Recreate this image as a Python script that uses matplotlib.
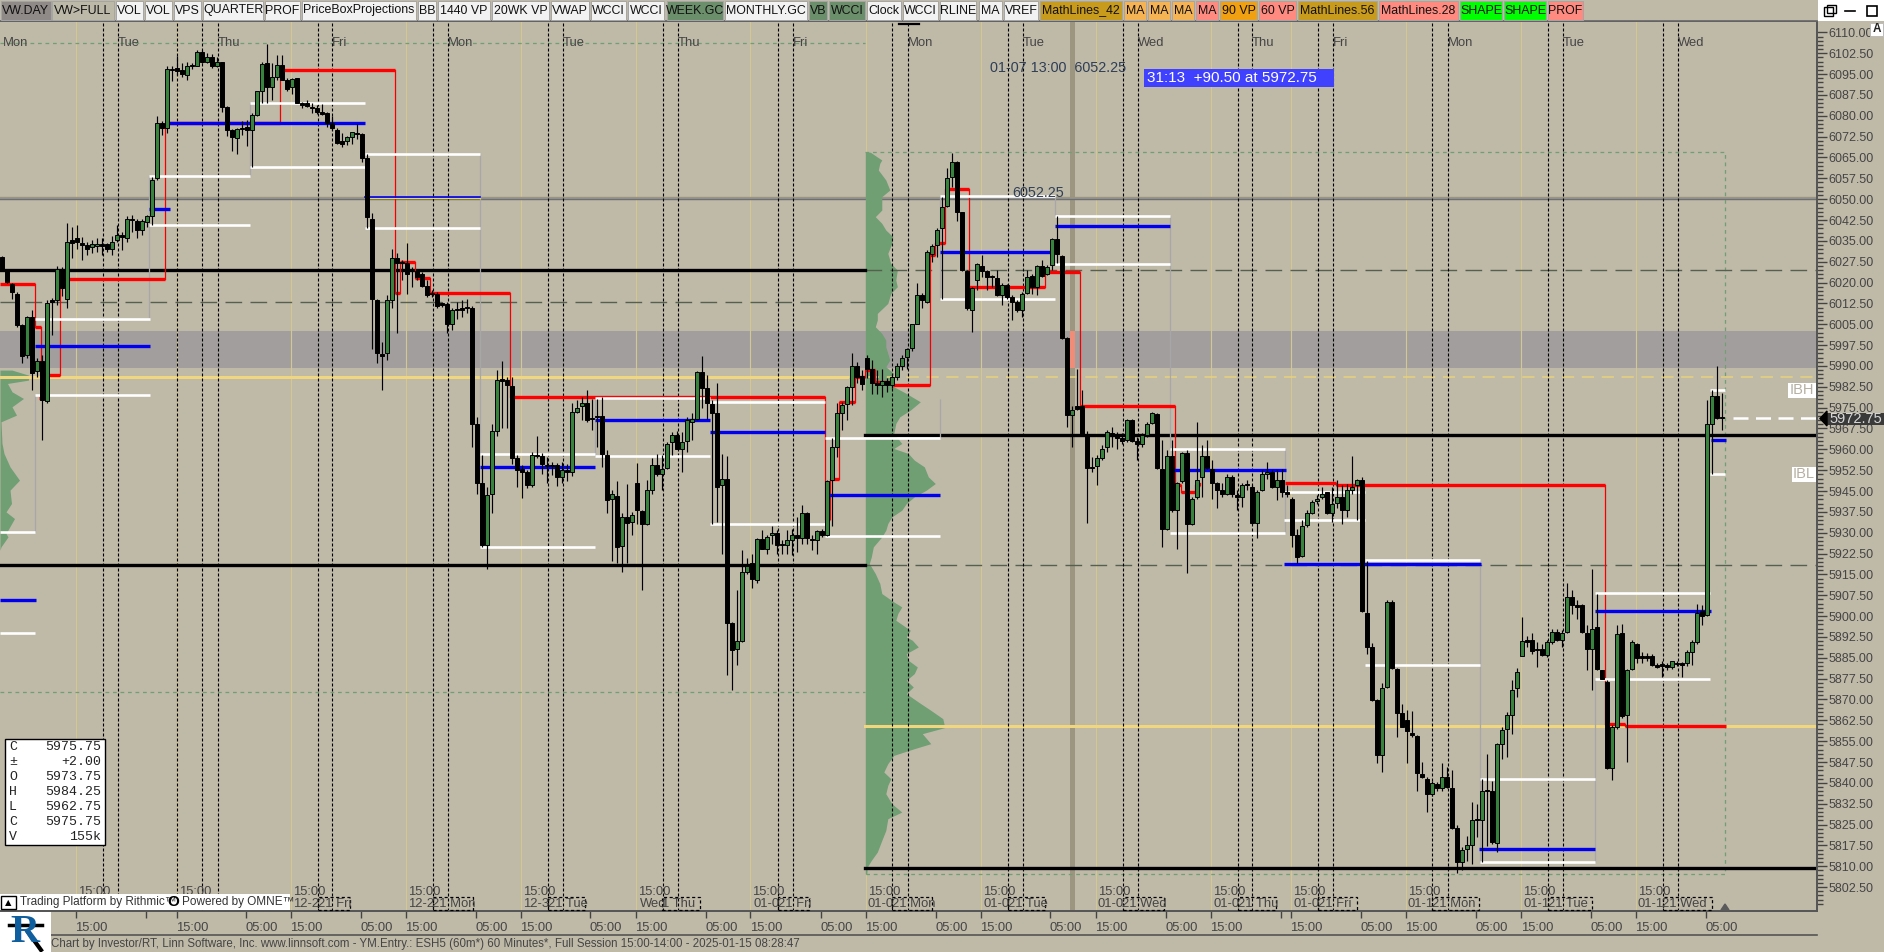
"""Hourly ES candlestick chart with volume profile and session levels."""

import matplotlib

matplotlib.use("Agg")
import matplotlib.pyplot as plt
import numpy as np
from matplotlib.lines import Line2D
from matplotlib.patches import Polygon, Rectangle

W, H = 1884, 952
BG = "#bfb9a8"
UP = "#37823c"
TEXT = "#454545"

# hourly candles, one value per bar
opens = [
    6029.25, 6024, 6019.5, 6016, 6004.75, 5994, 6007.75, 5988, 5991.75, 5977.5,
    6013.75, 6013.75, 6025, 6014.25, 6035.25, 6036, 6034.25, 6033.5, 6032.75, 6033,
    6034, 6033.75, 6032.25, 6035.25, 6037.25, 6036, 6043, 6042, 6039, 6041.75,
    6044, 6057.75, 6077.25, 6075.5, 6097, 6097.25, 6096.5, 6094.75, 6098, 6098,
    6103, 6099.5, 6101, 6097.75, 6099.25, 6083.25, 6075, 6072, 6075.75, 6076,
    6075, 6080.25, 6089, 6099, 6090.5, 6094, 6098.25, 6093, 6090.25, 6093.5,
    6084.5, 6084.75, 6083.25, 6082.75, 6081.25, 6081, 6077.5, 6075, 6070.75, 6070.75,
    6072.5, 6073.75, 6073.5, 6064.75, 6043, 6013.75, 5994.25, 5994.5, 6013.75, 6029,
    6027.5, 6027, 6024.25, 6024, 6023.25, 6018.75, 6016, 6016, 6012.5, 6012.25,
    6005.25, 6010.25, 6010.75, 6011, 6011, 5969, 5947.75, 5925.75, 5943.75, 5966.75,
    5985, 5985, 5982.75, 5956.75, 5953, 5951.75, 5947, 5958, 5957.5, 5954.5,
    5954.25, 5954.5, 5950, 5952.5, 5952, 5973.5, 5975.75, 5976.5, 5971, 5972,
    5972, 5958, 5942, 5943.25, 5925.25, 5935.5, 5934, 5947.75, 5937.75, 5933.25,
    5945.5, 5954.25, 5951.25, 5953.25, 5962.5, 5965.25, 5960.25, 5963, 5970, 5970.75,
    5987.75, 5982, 5976.25, 5973, 5947, 5949.5, 5897.5, 5888, 5891, 5916,
    5919.25, 5913, 5927.75, 5924.25, 5929, 5929.75, 5926, 5925.75, 5927.5, 5929,
    5928, 5937, 5927.75, 5927.5, 5930.5, 5929, 5949, 5960.75, 5973, 5976.25,
    5982.5, 5990, 5986.5, 5993, 5989, 5984, 5983, 5984.5, 5983, 5986,
    5990, 5993.25, 5996.5, 6005.25, 6015.5, 6013, 6030.25, 6033.5, 6039.5, 6047.5,
    6058, 6063.5, 6045.25, 6024.25, 6010.25, 6021, 6026, 6024, 6022.25, 6021.5,
    6015.5, 6019, 6014.75, 6013, 6010, 6016.25, 6022.25, 6018.25, 6026, 6023,
    6026.25, 6035.5, 6029.5, 6000, 5972.25, 5975.5, 5975.5, 5965.25, 5953.75, 5954,
    5956.75, 5960.75, 5966, 5965, 5964, 5963.25, 5970.5, 5963, 5961.75, 5965.25,
    5969.5, 5972.75, 5953, 5931.25, 5957.5, 5938, 5948.5, 5958.5, 5933.25, 5943,
    5950, 5957.5, 5953, 5947.75, 5945.25, 5943.75, 5950, 5943.5, 5943, 5947.5,
    5946.5, 5933.5, 5945.25, 5951.25, 5952, 5946.5, 5949, 5944.5, 5942, 5929,
    5921.75, 5932.75, 5937, 5941.5, 5943, 5944.5, 5937, 5940.75, 5943, 5938,
    5945.5, 5947, 5949, 5901.25, 5889, 5869.75, 5850, 5874.5, 5905, 5881,
    5865.25, 5862.75, 5858, 5857, 5843.25, 5841.5, 5836, 5839.75, 5838, 5842.25,
    5838.25, 5823.75, 5811.5, 5816.25, 5817.75, 5826.75, 5826.5, 5837.5, 5837.25, 5818.5,
    5854, 5859.5, 5864.25, 5874, 5885.75, 5891.25, 5891.25, 5888.25, 5888.25, 5886,
    5890.75, 5894.25, 5891.25, 5894.25, 5906.75, 5904, 5904, 5894, 5888.25, 5896,
    5880.5, 5876.25, 5845.25, 5860, 5893.75, 5864.25, 5881, 5890, 5885.5, 5885.5,
    5885.5, 5882.25, 5882.75, 5882.25, 5881.75, 5883, 5883, 5883, 5887.25, 5890.75,
    5901.75, 5900.5, 5969.25, 5979.25, 5971.5,
]
highs = [
    6029.5, 6024.5, 6020, 6016.5, 6005, 6008, 6010, 5993, 5994, 6013.75,
    6014.5, 6026, 6025.5, 6041.25, 6040, 6040.75, 6036.5, 6034.75, 6035.25, 6036,
    6036, 6034.25, 6036.75, 6040.75, 6038.25, 6044, 6044.25, 6043, 6043, 6044.25,
    6058, 6079.75, 6078, 6097.75, 6098, 6101.5, 6099, 6099.5, 6099, 6103.5,
    6103.5, 6102.75, 6102.25, 6101, 6099.5, 6083.5, 6075.25, 6075.5, 6078, 6078.5,
    6081, 6089, 6099.5, 6105.75, 6099, 6102, 6102, 6093.5, 6093.75, 6093.75,
    6085, 6085.75, 6084.5, 6084, 6084.25, 6081.25, 6079.75, 6075.5, 6073.75, 6072.75,
    6074.25, 6077, 6073.75, 6066.25, 6045, 6014.25, 5998.75, 6015.5, 6032.25, 6030.5,
    6028, 6034.25, 6025.75, 6024.5, 6023.75, 6021, 6017.25, 6016.75, 6013, 6013,
    6011, 6013, 6013.75, 6014.25, 6011.5, 5971.75, 5958, 5946.5, 5969.25, 5988.5,
    5991.75, 5986, 5986, 5958, 5954.25, 5952.5, 5959, 5964.75, 5958.5, 5957.25,
    5955.5, 5955, 5955.5, 5954.75, 5976.5, 5977.75, 5978.75, 5981.5, 5978.25, 5978.25,
    5979, 5959.75, 5945.25, 5948.5, 5937, 5947.5, 5937.5, 5955, 5938, 5949,
    5956.75, 5958.25, 5958, 5962.75, 5966.25, 5966.75, 5966.25, 5971.75, 5973, 5988.25,
    5993.5, 5986.75, 5977.75, 5983.75, 5958.25, 5957.5, 5898, 5909.25, 5923.75, 5920.75,
    5922.5, 5928, 5931, 5929, 5932.25, 5931, 5927.25, 5931, 5931.5, 5935.75,
    5940, 5937.5, 5929, 5931, 5931.5, 5949, 5964, 5976.5, 5977, 5982.75,
    5994.75, 5991.5, 5988.5, 5994, 5992, 5988.5, 5988.75, 5985.5, 5986.75, 5991,
    5994, 5996.5, 6005.25, 6019.75, 6016.25, 6031.75, 6033.75, 6039.5, 6050.75, 6061.25,
    6066.5, 6063.75, 6045.5, 6024.5, 6018.5, 6027, 6030, 6024.5, 6022.75, 6024.5,
    6020, 6019.5, 6015.5, 6013.75, 6016.75, 6024.5, 6023.25, 6026.25, 6028, 6026.25,
    6036, 6044, 6030, 6000.5, 5975.75, 5989, 5981.25, 5966.75, 5957.25, 5958,
    5961.5, 5967, 5968, 5966.25, 5965.75, 5971, 5970.75, 5964.5, 5965.75, 5970,
    5973.5, 5973, 5963.25, 5959.75, 5963.5, 5948.25, 5959, 5959.75, 5943, 5970,
    5961.5, 5963.5, 5956.25, 5948.25, 5947.75, 5951, 5950.75, 5945.25, 5948, 5949,
    5947, 5945.25, 5952.5, 5955.5, 5952.5, 5952.5, 5953, 5947, 5943, 5931.5,
    5934.5, 5938.25, 5941.75, 5943.5, 5946.5, 5944.75, 5946.5, 5949, 5947, 5947.5,
    5957.5, 5949.5, 5950, 5920, 5890.25, 5870, 5875.75, 5905.75, 5905.75, 5881.25,
    5868.5, 5866.25, 5866, 5857.25, 5847.5, 5842, 5840.75, 5840.25, 5847.25, 5845.75,
    5844.75, 5824.75, 5817, 5821, 5833.25, 5832.5, 5841.5, 5850.25, 5840.75, 5854.25,
    5860, 5865.5, 5877, 5881.5, 5899.75, 5893, 5893.75, 5890.75, 5890, 5891.25,
    5895.5, 5895.5, 5895, 5911.75, 5909.25, 5905.75, 5904.5, 5896.75, 5917, 5908,
    5880.75, 5877, 5860.75, 5896.75, 5897, 5881, 5891.25, 5890.25, 5887, 5886.75,
    5886.25, 5883, 5884, 5883, 5884, 5884, 5883.5, 5887.75, 5891.25, 5904.5,
    5904, 5977.75, 5981.25, 5990, 5980.25,
]
lows = [
    6024, 6019.75, 6014.25, 6004, 5991, 5993, 5981.25, 5986, 5963.25, 5976.5,
    6001, 6012, 6015, 6010.75, 6028.75, 6032.25, 6028.25, 6030, 6030.5, 6031,
    6030, 6031, 6030, 6034.75, 6031.75, 6034.75, 6038.25, 6036, 6037, 6040,
    6040.75, 6057, 6073.25, 6073.75, 6092.5, 6094.75, 6094, 6093, 6097, 6098,
    6099, 6099, 6097.25, 6097.5, 6081.5, 6072.75, 6067.5, 6066.25, 6073, 6069,
    6061.75, 6080, 6084.5, 6084.5, 6085.75, 6093, 6093, 6088.75, 6088, 6084.5,
    6082.75, 6083, 6081, 6080.75, 6080.25, 6076, 6075, 6070, 6068.75, 6069.5,
    6070, 6071.75, 6063.5, 6039.5, 5996.25, 5991, 5981.25, 5992, 6010.75, 6001.75,
    6021, 6016, 6018.5, 6021, 6018.5, 6014.75, 6014.75, 6010.75, 6011.25, 6001.75,
    6003, 6007, 6007.75, 6009, 5961, 5943.75, 5925, 5917, 5937, 5964.75,
    5967.5, 5967.5, 5954.75, 5946.5, 5942.5, 5946, 5946.5, 5956.75, 5951, 5947.75,
    5950.75, 5946.75, 5947.75, 5948.75, 5950.25, 5973, 5970.5, 5970, 5967, 5961,
    5953.75, 5937, 5920, 5919, 5916, 5919, 5929, 5933.25, 5909.25, 5932.75,
    5944, 5950.5, 5945.25, 5953, 5958, 5960, 5952, 5959, 5963.25, 5970.5,
    5974.75, 5971, 5933.25, 5934, 5922.5, 5878.75, 5873.25, 5882.25, 5890.75, 5915.25,
    5910, 5911.75, 5924, 5922.5, 5926, 5922.5, 5922.5, 5922.5, 5922, 5923,
    5926, 5926, 5923.75, 5922.5, 5928.5, 5928.75, 5932.5, 5957.25, 5967, 5970.5,
    5976, 5983.75, 5981.25, 5985.5, 5980, 5979.75, 5979, 5980.75, 5982, 5985,
    5988.5, 5989, 5995.5, 6005, 6010.75, 6012.5, 6027.5, 6029.25, 6014.25, 6047.25,
    6054.5, 6042, 6024, 6010, 6002.25, 6017.25, 6022, 6017.25, 6018.5, 6015,
    6011.75, 6014.25, 6006.5, 6009.5, 6007.75, 6016, 6016, 6015.5, 6022, 6022.75,
    6024.5, 6027, 5999.75, 5968, 5961, 5974, 5965, 5933.5, 5951.75, 5947,
    5956.25, 5959, 5961, 5960.25, 5962, 5962.75, 5962.75, 5956, 5961, 5964.5,
    5969.25, 5953, 5925, 5931, 5937.5, 5924, 5948, 5915.5, 5932.75, 5942.25,
    5943, 5953, 5942.25, 5938.75, 5943, 5943.5, 5943, 5938, 5939.25, 5945.25,
    5933.25, 5928, 5945, 5949.5, 5946, 5941.75, 5943, 5943, 5925, 5919,
    5921.25, 5932, 5936.75, 5940.5, 5942.25, 5936.75, 5934, 5938.75, 5933.25, 5935.75,
    5944, 5934.75, 5901.5, 5886.5, 5869.5, 5847, 5844, 5874, 5881, 5856.5,
    5860, 5847, 5856.5, 5837.25, 5841.75, 5829.5, 5835.25, 5837.25, 5837.25, 5838,
    5823.5, 5807.5, 5808.5, 5812, 5810.75, 5820.5, 5811.5, 5817.25, 5818, 5815,
    5848.75, 5849.25, 5857.75, 5870.75, 5885.5, 5889, 5886.5, 5881.75, 5885.5, 5885.25,
    5890, 5891, 5889, 5894, 5900.75, 5899, 5893.75, 5880.5, 5873.25, 5880.5,
    5877.5, 5845, 5841, 5859.5, 5863.5, 5847.5, 5880.5, 5883, 5883, 5884,
    5882, 5881.5, 5878.25, 5880.75, 5881, 5882, 5878, 5882, 5882.25, 5890,
    5896.75, 5900, 5951.25, 5971, 5967,
]
closes = [
    6024, 6020.25, 6016.75, 6004.75, 5993.75, 6007.5, 5987.5, 5991.75, 5977.75, 6012.75,
    6013, 6025, 6018, 6034.75, 6034.25, 6034.75, 6033.5, 6032.25, 6034, 6034,
    6033, 6032.25, 6034.75, 6037.25, 6036.5, 6043, 6042.5, 6039, 6042, 6044,
    6057, 6077.25, 6075.5, 6097, 6096.5, 6096.25, 6095, 6098, 6097.75, 6103,
    6099.5, 6101, 6097.75, 6099.25, 6083.25, 6074.75, 6072.25, 6075.25, 6075.25, 6075,
    6080.25, 6088.75, 6098.75, 6090.5, 6094, 6098.25, 6093, 6089.75, 6093.25, 6084.75,
    6084, 6083.5, 6082.75, 6081.5, 6080.75, 6077.5, 6075.5, 6070.25, 6070, 6072.25,
    6074, 6073.5, 6064.75, 6043.5, 6014.25, 5994.5, 5993.5, 6013.75, 6029, 6027,
    6027, 6023.25, 6024, 6022, 6018.75, 6015.5, 6015.75, 6011.5, 6012, 6005.25,
    6010, 6010, 6010.25, 6010.75, 5969.25, 5948, 5925.5, 5943.5, 5966.5, 5985,
    5984.75, 5983, 5956.75, 5952.5, 5952, 5947, 5958, 5957.5, 5954.75, 5954,
    5954, 5950, 5952.5, 5952, 5973.25, 5975, 5976.5, 5970.5, 5970.75, 5971.75,
    5958.25, 5941.75, 5943.75, 5925, 5935.5, 5933.5, 5936.5, 5938, 5933, 5945.25,
    5954.25, 5951, 5953, 5962, 5965.25, 5960.25, 5962.5, 5970.5, 5970.75, 5987.75,
    5982, 5976.5, 5973, 5946.5, 5949.5, 5897.5, 5887.75, 5891, 5915.75, 5918,
    5913.5, 5927.75, 5924.25, 5928.5, 5929.75, 5925.75, 5925.5, 5927.5, 5929, 5928,
    5937, 5928, 5927.25, 5930.5, 5929, 5948.75, 5960.75, 5973, 5976, 5982.25,
    5990, 5986, 5983.5, 5989, 5984, 5983, 5984.5, 5983, 5986, 5990,
    5993, 5996, 6005, 6015.5, 6013.75, 6031, 6033.25, 6039, 6047.25, 6057.5,
    6063.5, 6045.5, 6024.5, 6010.75, 6018, 6026.5, 6024.25, 6022, 6022, 6015.5,
    6019, 6014.75, 6013, 6010, 6016, 6022, 6018.25, 6026, 6022.5, 6025.75,
    6035.5, 6030.25, 6000, 5972.25, 5974, 5974.5, 5965.25, 5953.25, 5953.25, 5956.75,
    5960.25, 5966.25, 5965.5, 5964.25, 5963, 5970.5, 5963, 5961.75, 5965, 5969.25,
    5973, 5953.25, 5931.25, 5957.5, 5938, 5948, 5958.5, 5933.25, 5942, 5949,
    5957.5, 5953.25, 5948, 5945.25, 5943.75, 5950, 5943.75, 5943, 5947.25, 5947,
    5933.5, 5944.75, 5951, 5952, 5946.5, 5949, 5944.75, 5944, 5929, 5921.25,
    5932.5, 5937, 5941, 5942.25, 5944, 5937, 5940.5, 5943, 5938, 5945.5,
    5946.5, 5949, 5902, 5889, 5869.75, 5850, 5874.25, 5905, 5881.25, 5865,
    5860, 5858.75, 5857.25, 5843.5, 5842, 5836, 5840, 5838, 5842.25, 5838.5,
    5823.75, 5811.5, 5816, 5817.75, 5826.75, 5826.5, 5837, 5837, 5818.75, 5854,
    5859, 5864.25, 5873.5, 5880, 5891, 5890.75, 5887.5, 5887.75, 5886, 5890.5,
    5894.25, 5891.25, 5894, 5906.75, 5904, 5903.25, 5894.25, 5888.25, 5895.5, 5881,
    5877.5, 5845.25, 5860, 5893.5, 5864, 5880.5, 5890.5, 5885, 5885, 5885,
    5882.25, 5881.75, 5882, 5881.75, 5883.75, 5882.75, 5882.5, 5887.25, 5890.5, 5901.25,
    5900, 5969, 5979.25, 5971.25, 5971.25,
]

# session boundaries, in bars
session_starts = [14.7, 34.9, 57.7, 80.7, 103.7, 126.7, 149.6, 172.7, 195.7, 218.7,
                  241.7, 257.7, 280.7, 303.8, 326.7]
overnight_ticks = [28.7, 48.7, 71.7, 94.7, 117.6, 140.7, 163.7, 186.7, 209.6, 232.7,
                   255.8, 271.7, 294.7, 317.7, 340.7]
unlabeled_ticks = [28.7, 255.8]
rth_marks = [20.1, 23.1, 34.9, 40, 43.1, 63.1, 66, 86.1, 89.1, 109.2, 112.1, 132.1, 135.1,
             155.1, 158.1, 178, 181.2, 201.1, 204.1, 224.1, 227.1, 247.1, 250, 263.2, 266.1,
             286, 289.1, 309.1, 312.1, 332.1, 335.1]
day_names = ["Mon", "Tue", "Thu", "Fri", "Mon", "Tue", "Thu", "Fri", "Mon", "Tue", "Wed",
             "Thu", "Fri", "Mon", "Tue", "Wed"]
day_bars = [0.2, 23.1, 43.1, 66, 89.1, 112.1, 135.1, 158.1, 181.2, 204.1, 227.1, 250,
            266.1, 289.1, 312.1, 335.1]

# date captions under the bars: start bar, prefix, box bar, box end, box text
date_prefixes = ["12-2", "12-2", "12-3", "Wed", "01-0", "01-0", "01-0", "01-0", "01-0",
                 "01-0", "01-1", "01-1", "01-1"]
date_bars = [58.2, 81.2, 104.2, 127.6, 150.2, 173.2, 196.2, 219.2, 242.2, 258.3, 281.2,
             304.2, 327.2]
box_bars = [63.1, 86.1, 109.2, 132, 155.1, 178, 201.1, 224.1, 247.1, 263.2, 286, 309.1, 332.1]
box_ends = [69.6, 94.2, 116.6, 139.6, 161.4, 186, 208.6, 232.4, 254.7, 271, 295.4, 318, 342]
box_texts = ["21 Fri", "21 Mon", "21 Tue", "1 Thu", "21 Fri", "21 Mon", "21 Tue", "21 Wed",
             "21 Thu", "21 Fri", "21 Mon", "21 Tue", "21 Wed"]

# value area high / low levels: start bar, end bar, price
white_starts = [29.4, 29.4, 49.5, 49.5, 72.5, 72.5, 6.5, 6.5, -0.4, -0.4, 95.5, 95.5, 118.5, 118.5,
                141.6, 141.6, 164.5, 164.5, 187.6, 187.6, 210.5, 210.5, 233.5, 233.5,
                256.4, 256.4, 272.5, 272.5, 295.5, 295.5, 318.6, 318.6, 341.5, 341.5]
white_ends = [49.5, 49.5, 72.5, 72.5, 95.5, 95.5, 29.6, 29.6, 6.5, 6.5, 118.5, 118.5, 141.6, 141.6,
              164.5, 164.5, 187.6, 187.6, 210.5, 210.5, 233.6, 233.6, 256.6, 256.6,
              272.6, 272.6, 295.5, 295.5, 318.6, 318.6, 341.5, 341.5, 344.6, 344.6]
white_prices = [6058.5, 6040.7, 6084.7, 6061.7, 6066.3, 6039.6, 5979.5, 6006.9, 5930.3, 5893.9,
                5958.4, 5924.9, 5978.5, 5957.5, 5977.1, 5933.2, 5964.1, 5928.7, 6051.3, 6014,
                6043.9, 6026.7, 5960.2, 5929.9, 5944.6, 5934.5, 5920.1, 5882.3, 5841.4, 5811.5,
                5908.2, 5877.3, 5981.3, 5951.1]

# point of control per period
blue_starts = [29.4, 32.5, 6.5, 95.5, -0.4, 118.6, 141.5, 164.5, 187.6, 210.5, 233.5,
               256.4, 295.4, 318.6, 341.7]
blue_ends = [33.5, 72.5, 29.6, 118.6, 6.7, 141.5, 164.5, 187.6, 210.6, 233.6, 256.8,
             295.7, 318.6, 341.7, 344.7]
blue_prices = [6046.3, 6077.3, 5997.1, 5953.6, 5905.7, 5970.7, 5966.1, 5943.4, 6030.9,
               6040.2, 5952.4, 5918.9, 5816.3, 5902, 5963.2]
# this one sits on the 6050 line and is drawn thin
thin_poc_bars = [72.5, 95.5]
thin_poc_price = 6050.7

# stepped red level
red_starts = [-0.4, 6.5, 7.4, 8.2, 11.6, 32.5, 55.5, 78.6, 79.5, 82.5, 85.5, 101.5, 164.6, 165.6,
              167.4, 170.5, 172.5, 174.5, 178.2, 185.5, 186.5, 188.6, 193.4, 208.6, 215.5,
              234.5, 235.7, 238.6, 256.6, 266.8, 320.5, 324.5]
red_ends = [6.5, 7.8, 8.2, 11.6, 32.5, 55.5, 78.6, 79.5, 82.5, 85.5, 101.5, 164.6, 165.6, 167.4,
            170.5, 172.5, 174.5, 178.2, 185.5, 186.5, 188.6, 193.4, 208.6, 215.5, 234.5,
            235.7, 238.6, 239.6, 266.8, 320.5, 324.5, 344.7]
red_prices = [6019.5, 6003.9, 5978.3, 5986.7, 6021.1, 6077.3, 6096.4, 6016.1, 6027.5, 6021.5,
              6016.1, 5978.7, 5935.1, 5949.5, 5976.9, 5985.9, 5988.5, 5984.1, 5983.3, 6029.9,
              6034.1, 6053.5, 6018.5, 6023.9, 5975.5, 5947, 5944.5, 5947, 5948, 5947,
              5861.3, 5860.6]

# thin grey period borders: bar, top, bottom
border_bars = [6.5, 29.4, 49.5, 95.5, 118.5, 164.5, 187.6, 187.6, 210.5, 233.6, 256.5, 295.5, 318.6]
border_tops = [5979.5, 6058.5, 6084.7, 6066.3, 5978.5, 5977, 5978, 6051.3, 6051.3, 6043.9, 5960.2,
               5920.1, 5877.3]
border_bottoms = [5930.3, 6007, 6058.5, 5958.4, 5957.5, 5964, 5964.1, 6014, 6043.9, 5960.2, 5929.9,
                  5811.5, 5811.5]

# main volume profile, volume per price
profile_prices = [
    6066.9, 6065.3, 6064.1, 6062.9, 6060.5, 6056.9, 6053.3, 6050.9, 6048.5, 6046.1, 6043.7, 6041.3,
    6038.9, 6036.5, 6034.1, 6030.5, 6026.9, 6024.5, 6020.9, 6018.5, 6016.1, 6012.5, 6008.9, 6006.5,
    6004.1, 6001.7, 5999.3, 5996.9, 5994.5, 5992.1, 5989.7, 5987.3, 5984.9, 5982.5, 5980.1, 5977.1,
    5974.1, 5971.7, 5969.3, 5965.7, 5962.1, 5960.3, 5958.5, 5956.1, 5953.7, 5950.1, 5947.7, 5945.3,
    5942.9, 5940.5, 5938.1, 5935.7, 5933.3, 5930.9, 5928.5, 5924.9, 5921.3, 5918.9, 5915.3, 5911.7,
    5908.1, 5905.1, 5903.3, 5900.9, 5898.5, 5894.9, 5892.5, 5891.3, 5888.9, 5886.5, 5884.1, 5881.7,
    5879.3, 5876.9, 5874.5, 5872.1, 5869.1, 5866.1, 5863.1, 5859.9, 5857.7, 5854.1, 5852.3, 5849.9,
    5846.9, 5843.9, 5841.5, 5839.1, 5836.1, 5832.5, 5829.5, 5827.1, 5822.9, 5819.3, 5815.1, 5812.1,
    5809.7, 5807.3,
]
profile_volume = [
    1.0, 2.3, 3.3, 2.9, 2.6, 4.1, 4.9, 3.3, 3.3, 3.3, 2.0, 3.3,
    4.1, 5.5, 5.3, 4.5, 5.1, 6.4, 6.1, 6.4, 5.1, 4.5, 2.4, 2.4,
    2.0, 3.3, 4.1, 4.1, 4.5, 4.9, 4.1, 5.7, 4.9, 5.7, 8.2, 11.0,
    9.0, 6.9, 6.1, 5.7, 7.3, 5.7, 8.6, 9.8, 11.8, 12.6, 14.0, 12.2,
    9.8, 8.2, 7.3, 5.3, 4.5, 4.1, 3.3, 1.6, 1.2, 0.8, 2.0, 2.9,
    3.3, 5.7, 7.3, 6.5, 6.1, 9.0, 8.2, 9.4, 10.6, 8.2, 8.6, 10.4,
    9.8, 8.2, 9.6, 8.2, 10.6, 13.1, 15.5, 15.9, 11.4, 13.1, 9.8, 5.7,
    4.5, 3.7, 5.1, 4.5, 4.1, 5.3, 7.3, 4.5, 4.1, 3.3, 2.4, 1.2,
    0.4, 0.3,
]
# older profile cut off by the left edge
left_profile_prices = [5988.5, 5986.7, 5984.9, 5983.7, 5980.7, 5978.3, 5975.3, 5972.3, 5969.9,
                       5962.1, 5958.5, 5953.7, 5948.9, 5945.3, 5940.5, 5937.5, 5935.1, 5929.7,
                       5928.5, 5924.9, 5923.7]
left_profile_volume = [2.4, 5.7, 5.7, 1.5, 2.4, 4.7, 2.4, 3.3, 0.2,
                       0.4, 0.8, 2.0, 3.9, 2.0, 2.3, 1.2, 2.9, 1.2,
                       1.6, 0.2, 0]

# toolbar buttons
button_labels = ["VW.DAY", "VW>FULL", "VOL", "VOL", "VPS", "QUARTER", "PROF", "PriceBoxProjections",
                 "BB", "1440 VP", "20WK VP", "VWAP", "WCCI", "WCCI", "WEEK.GC", "MONTHLY.GC", "VB",
                 "WCCI", "Clock", "WCCI", "RLINE", "MA", "VREF", "MathLines_42", "MA", "MA", "MA",
                 "MA", "90 VP", "60 VP", "MathLines.56", "MathLines.28", "SHAPE", "SHAPE", "PROF"]
button_lefts = [1, 52, 116, 145, 174, 203, 265, 302, 418, 438, 492, 551, 591, 628, 667, 725, 809,
                829, 867, 903, 940, 979, 1004, 1040, 1124, 1148, 1172, 1196, 1220, 1259, 1298,
                1379, 1460, 1504, 1548]
button_rights = [51, 114, 143, 172, 201, 263, 300, 416, 436, 490, 549, 589, 626, 664, 723, 807, 827,
                 865, 901, 938, 976, 1002, 1038, 1122, 1146, 1170, 1194, 1218, 1257, 1296, 1377,
                 1458, 1502, 1546, 1583]
button_colors = ["#8f8a88", "#bcb9a9"] + ["#f2f2f2"] * 12 + ["#6b8e6b", "#f2f2f2", "#6b8e6b", "#6b8e6b"] \
    + ["#f2f2f2"] * 5 + ["#c89b1c", "#f5b354", "#f5b354", "#f5b354", "#ff8a80", "#f0a010", "#ff8a80",
                         "#c89b1c", "#ff8a80", "#00ff00", "#00ff00", "#ff8a80"]

ohlc_names = ["C", "±", "O", "H", "L", "C", "V"]
ohlc_values = ["5975.75", "+2.00", "5973.75", "5984.25", "5962.75", "5975.75", "155k"]

plt.rcParams["font.family"] = ["Liberation Sans", "DejaVu Sans"]


def fig_box(x0, y0, x1, y1, **kwargs):
    """Rectangle given in pixels from the top left of the figure."""
    kwargs.setdefault("zorder", 5)
    rect = Rectangle((x0 / W, 1 - y1 / H), (x1 - x0) / W, (y1 - y0) / H,
                     transform=fig.transFigure, **kwargs)
    fig.add_artist(rect)


def fig_label(x, y, text, **kwargs):
    kwargs.setdefault("zorder", 6)
    kwargs.setdefault("va", "center")
    kwargs.setdefault("color", TEXT)
    fig.text(x / W, 1 - y / H, text, **kwargs)


def fig_line(x0, y0, x1, y1, **kwargs):
    kwargs.setdefault("zorder", 5)
    fig.add_artist(Line2D([x0 / W, x1 / W], [1 - y0 / H, 1 - y1 / H],
                          transform=fig.transFigure, **kwargs))


fig = plt.figure(figsize=(W / 100, H / 100), dpi=100, facecolor=BG)
ax = fig.add_axes([0, 1 - 911 / H, 1817 / W, (911 - 21) / H], facecolor=BG)
ax.set_xlim(-0.4, 363)
ax.set_ylim(5793.9, 6114.1)

# background levels
ax.axhspan(5989.3, 6002.5, color="#a39e9e", lw=0, zorder=1)
ax.axhline(6050.3, color="#9b9480", lw=2.4, zorder=1.2)
ax.axhline(6050.1, color="#6a6f7e", lw=0.9, zorder=1.3)
for x in session_starts:
    ax.axvline(x, color="#d3c88f", lw=0.8, zorder=1.1)
ax.axvline(214, color="#9c9680", lw=3.6, ymax=0.997, zorder=1.15)
ax.add_patch(Rectangle((213.5, 5989.3), 1, 13.2, color="#f08c78", lw=0, zorder=1.16))

# volume profiles
profile_start = (865.3 - 2) / 5
ax.fill_betweenx(profile_prices, profile_start, profile_start + np.array(profile_volume),
                 color="#6f9f72", lw=0, zorder=1.5)
ax.fill_betweenx(left_profile_prices, -0.4, np.array(left_profile_volume) - 0.4,
                 color="#6f9f72", lw=0, zorder=1.5)

# dashed frames of the two profile periods
frame = dict(color="#6f9f72", lw=0.9, ls=(0, (3, 3)), zorder=1.6)
ax.plot([-0.4, profile_start], [6106.1, 6106.1], **frame)
ax.plot([-0.4, profile_start], [5872.7, 5872.7], **frame)
ax.plot([profile_start, 344.6, 344.6, profile_start], [6066.9, 6066.9, 5807.3, 5807.3], **frame)

# long dashed continuation lines
dash = dict(color="#55604f", lw=1.0, ls=(0, (12, 6)), zorder=1.7)
ax.plot([-0.4, profile_start], [6013.1, 6013.1], **dash)
ax.plot([profile_start, 363], [6024.4, 6024.4], **dash)
ax.plot([profile_start, 363], [5918.5, 5918.5], **dash)
ax.plot([169, 363], [5985.9, 5985.9], color="#e8d27c", lw=1.1, ls=(0, (8, 5)), zorder=1.7)

# solid reference levels
ax.plot([-0.4, 169], [5985.9, 5985.9], color="#f0d67e", lw=2.2, zorder=1.8)
ax.plot([profile_start, 363], [5860.6, 5860.6], color="#f0d67e", lw=2.2, zorder=1.8)
ax.plot([-0.4, profile_start], [6024.4, 6024.4], color="black", lw=2.4, zorder=1.9)
ax.plot([-0.4, profile_start], [5918.5, 5918.5], color="black", lw=2.4, zorder=1.9)
ax.plot([profile_start, 363], [5965.3, 5965.3], color="black", lw=2.4, zorder=1.9)
ax.plot([profile_start, 363], [5809.5, 5809.5], color="black", lw=2.4, zorder=1.9)

ax.vlines(rth_marks, 5793.9, 6114.1, color="black", lw=0.8, ls=(0, (2.7, 1.8)), zorder=2)

# period levels
ax.vlines(border_bars, border_bottoms, border_tops, color="#a7a7a7", lw=0.9, zorder=2.1)
for i in range(len(red_prices) - 1):
    ax.plot([red_ends[i], red_ends[i]], [red_prices[i], red_prices[i + 1]], color="#f00000", lw=0.9,
            zorder=2.2)
ax.hlines(red_prices, red_starts, red_ends, color="#ff0000", lw=2.4, zorder=2.3)
ax.hlines(white_prices, white_starts, white_ends, color="white", lw=1.9, zorder=2.4)
ax.plot(thin_poc_bars, [thin_poc_price - 0.4] * 2, color="#e8d84a", lw=0.8, zorder=2.45)
ax.plot(thin_poc_bars, [thin_poc_price] * 2, color="#0000ee", lw=1.2, zorder=2.5)
ax.hlines(blue_prices, blue_starts, blue_ends, color="#0000ee", lw=2.4, zorder=2.5)

# candles
bars = np.arange(len(opens))
opens_arr, closes_arr = np.array(opens), np.array(closes)
ax.vlines(bars, lows, highs, color="black", lw=0.85, zorder=3)
rising = closes_arr > opens_arr
body_bottom = np.minimum(opens_arr, closes_arr)
body_height = np.maximum(np.abs(closes_arr - opens_arr), 0.4)
ax.bar(bars, body_height, 0.7, body_bottom, color=np.where(rising, UP, "black"),
       edgecolor="black", lw=0.7, zorder=3.1)

# current price dash
ax.plot([346.2, 362.7], [5971.4, 5971.4], color="white", lw=1.8, ls=(0, (6, 3)), zorder=3.2)

# day names and annotations inside the chart
for x, name in zip(day_bars, day_names):
    ax.text(x, 6106.1, name, color=TEXT, fontsize=9.4, va="center", ha="left", zorder=4)
ax.text(197.6, 6097.3, "01-07 13:00  6052.25", color="#2f3f55", fontsize=10.4, va="center", ha="left",
        zorder=4)
ax.text(202, 6052.3, "6052.25", color="#2f3f55", fontsize=10.4, va="center", ha="left", zorder=4)

# x axis
ticks = session_starts + overnight_ticks
tick_labels = ["15:00"] * len(session_starts) + [
    "" if x in unlabeled_ticks else "05:00" for x in overnight_ticks
]
ax.set_xticks(ticks, tick_labels, ha="left", fontsize=9.4, color=TEXT)
ax.tick_params(axis="x", length=5, width=1.0, color="#444444", pad=3)

# y axis
major_prices = [6110 - 7.5 * n for n in range(42)]
ax.yaxis.tick_right()
ax.set_yticks(major_prices, [f"{p:.2f}" for p in major_prices], fontsize=9, color=TEXT)
ax.set_yticks([p - 1.5 * k for p in major_prices for k in range(1, 5)], minor=True)
ax.tick_params(axis="y", which="major", length=7.5, width=1.0, color="#444444", pad=1)
ax.tick_params(axis="y", which="minor", length=4, width=1.0, color="#444444")
ax.spines["left"].set_visible(False)
for side in ["top", "bottom", "right"]:
    ax.spines[side].set_color("#555555")
    ax.spines[side].set_linewidth(1.4)

# session captions above the axis
for x in session_starts:
    fig_label(2 + 5 * x + 2.5, 892, "15:00", fontsize=9.4, zorder=4)
for x, prefix, box_x, box_end, box_text in zip(date_bars, date_prefixes, box_bars, box_ends, box_texts):
    fig_label(2 + 5 * x, 904, prefix, fontsize=9.4, zorder=4)
    fig_label(2 + 5 * box_x, 904, box_text, fontsize=9.4, zorder=4)
    fig_box(2 + 5 * box_x, 897, 2 + 5 * box_end, 909.5, fill=False, edgecolor="black", lw=0.9,
            ls=(0, (2.5, 2)), zorder=4)

# toolbar
fig_box(0, 0, W, 21, color=BG, lw=0, zorder=4)
fig_line(0, 21, 1817, 21, color="#666666", lw=1.2)
for label, left, right, color in zip(button_labels, button_lefts, button_rights, button_colors):
    fig_box(left, 1, right, 20, facecolor=color, edgecolor="#a5a5a5", lw=0.7)
    fig_label((left + right) / 2, 10.5, label, ha="center", color="#111111", fontsize=8.9)

# window buttons
fig_box(1818, 0, W, 21, color="white", lw=0)
fig_box(1824, 7, 1833, 16, fill=False, edgecolor="black", lw=1.0, zorder=6)
fig_box(1827, 5, 1836, 13, fill=False, edgecolor="black", lw=1.0, zorder=6)
fig_line(1845, 10.5, 1855, 10.5, color="black", lw=1.2, zorder=6)
fig_box(1867, 6, 1877, 16, fill=False, edgecolor="black", lw=1.2, zorder=6)
fig_box(1870, 23, 1883, 36, facecolor="white", edgecolor="#bbbbbb", lw=0.7)
fig_label(1876.5, 29.5, "A", ha="center", color="#222222", fontsize=8.5, fontweight="bold")

# blue countdown tag
fig_box(1144, 69, 1334, 87, color="#4040ff", lw=0)
fig_label(1147, 78, "31:13  +90.50 at 5972.75", color="white", fontsize=11)

# price tags at the right
fig_box(1788, 383, 1816, 398, color="white", lw=0)
fig_label(1802, 390.5, "IBH", ha="center", color="#b5b0a2", fontsize=10.5)
fig_box(1791.5, 467, 1816, 482, color="white", lw=0)
fig_label(1804, 474.5, "IBL", ha="center", color="#b5b0a2", fontsize=10.5)
fig_box(1826, 412.7, W, 425, color="#3a3a3a", lw=0, zorder=5)
fig.add_artist(Polygon([[1820 / W, 1 - 418.5 / H], [1827 / W, 1 - 411 / H], [1827 / W, 1 - 426 / H]],
                       transform=fig.transFigure, color="black", zorder=6))
fig_label(1829, 418.7, "5972.75", color="#d8d8d8", fontsize=10.5)

# black stub at the top of the chart and triangle at the bottom
fig_line(899, 24, 919, 24, color="black", lw=1.6, zorder=4)
fig.add_artist(Polygon([[1721 / W, 1 - 910 / H], [1725 / W, 1 - 904 / H], [1729 / W, 1 - 910 / H]],
                       transform=fig.transFigure, color="#5a5a5a", zorder=4))

# OHLC box
fig_box(5.3, 739, 104.5, 845, facecolor="white", edgecolor="black", lw=1.0)
for n, (name, value) in enumerate(zip(ohlc_names, ohlc_values)):
    y = 747.3 + 15 * n
    fig_label(9, y, name, family="Liberation Mono", fontsize=9.5, color="#222222")
    fig_label(101, y, value, family="Liberation Mono", fontsize=9.5, color="#222222", ha="right")

# vendor banner
fig_box(0, 894, 290, 910, color="white", lw=0)
fig_box(1, 896, 16, 909, fill=False, edgecolor="black", lw=1.0, zorder=6)
fig_label(8.5, 902.5, "▲", ha="center", color="black", fontsize=6, family="DejaVu Sans")
fig_label(19.5, 902.5, "Trading Platform by Rithmic™", color="#333333", fontsize=8.5)
fig_label(173, 902.5, "O", ha="center", color="black", fontsize=11, fontweight="bold")
fig_label(181.5, 902.5, "Powered by OMNE™", color="#333333", fontsize=8.5)

# bottom strip
fig_line(0, 935, 1817, 935, color="#555555", lw=1.2)
fig_box(0, 912, 51, H, color="white", lw=0)
fig_label(25, 932, "R", ha="center", color="#0f5f9e", fontsize=29, fontweight="bold",
          family="Liberation Serif")
fig_line(9, 925, 42, 925, color="black", lw=2.5, zorder=6)
fig_line(28, 932, 41, 950, color="black", lw=3, zorder=6)
fig_label(51, 944, "Chart by Investor/RT, Linn Software, Inc. www.linnsoft.com - YM.Entry.: ESH5 (60m*) "
          "60 Minutes*, Full Session 15:00-14:00 - 2025-01-15 08:28:47", fontsize=8.3)

fig.savefig("out.png", dpi=100, facecolor=BG)
